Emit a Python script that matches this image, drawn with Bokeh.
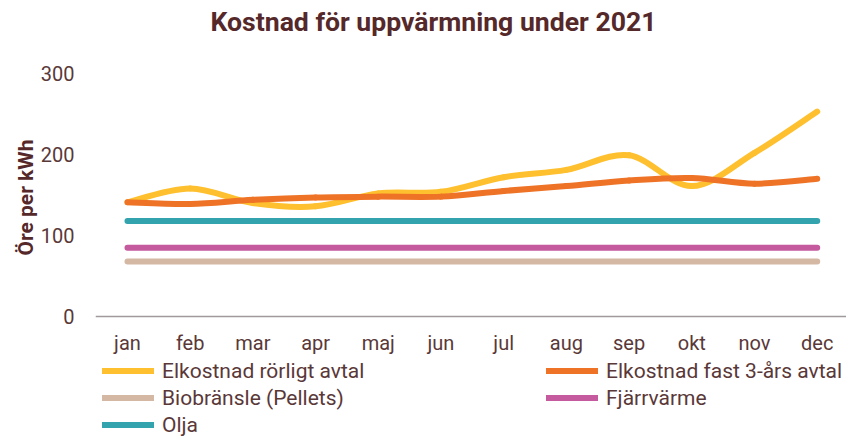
from bokeh.plotting import figure
from bokeh.models import Range1d, FixedTicker, Legend, LegendItem, ColumnDataSource, Title, Label
from bokeh.embed import file_html
from bokeh.resources import INLINE

# ---- data ----
months = ["jan", "feb", "mar", "apr", "maj", "jun", "jul", "aug", "sep", "okt", "nov", "dec"]
el_rorligt = [141, 158, 140, 136, 152, 154, 172, 181, 199, 161, 202, 253]
el_fast = [141, 139, 144, 147, 148, 148, 155, 161, 168, 171, 164, 170]
pellets = [68, 68, 68, 68, 68, 68, 68, 68, 68, 68, 68, 68]
fjarrvarme = [85, 85, 85, 85, 85, 85, 85, 85, 85, 85, 85, 85]
olja = [118, 118, 118, 118, 118, 118, 118, 118, 118, 118, 118, 118]
y_ticks = [0, 100, 200, 300]

names = ["Elkostnad rörligt avtal", "Elkostnad fast 3-års avtal",
         "Biobränsle (Pellets)", "Fjärrvärme", "Olja"]
colors = ["#FEC02E", "#EE7326", "#D5B8A3", "#C55A9E", "#33A3AE"]

TXT = "#5A3838"
TITLE = "#55282A"
FONT = "Roboto"

# the plot area fills the whole height so that the title and the legend can sit
# inside it; the value axis itself only covers 0..300
p = figure(width=846, height=436, output_backend="svg", toolbar_location=None,
           x_range=Range1d(-0.51, 11.467), y_range=Range1d(-148.1, 390.1),
           min_border_left=95, min_border_right=0, min_border_top=0, min_border_bottom=0,
           title_location=None)
p.outline_line_alpha = 0
p.xgrid.visible = False
p.ygrid.visible = False

p.add_layout(Label(text="Kostnad för uppvärmning under 2021", x=115, y=415,
                   x_units="screen", y_units="screen",
                   text_align="left", text_baseline="middle",
                   text_font=FONT, text_font_style="bold",
                   text_font_size="26.6px", text_color=TITLE))

xs = list(range(len(months)))


def smooth(ys):
    n = len(ys)
    d = dict(x0=[], y0=[], x1=[], y1=[], cx0=[], cy0=[], cx1=[], cy1=[])
    for i in range(n - 1):
        a = max(i - 1, 0)
        b = min(i + 2, n - 1)
        d["x0"].append(xs[i]); d["y0"].append(ys[i])
        d["x1"].append(xs[i + 1]); d["y1"].append(ys[i + 1])
        d["cx0"].append(xs[i] + (xs[i + 1] - xs[a]) / 6)
        d["cy0"].append(ys[i] + (ys[i + 1] - ys[a]) / 6)
        d["cx1"].append(xs[i + 1] - (xs[b] - xs[i]) / 6)
        d["cy1"].append(ys[i + 1] - (ys[b] - ys[i]) / 6)
    return ColumnDataSource(d)


LW = 6
rs = {}
for nm, ys, c in [(names[2], pellets, colors[2]), (names[3], fjarrvarme, colors[3]),
                  (names[4], olja, colors[4])]:
    rs[nm] = p.line(xs, ys, line_color=c, line_width=LW, line_cap="round")
for nm, ys, c in [(names[0], el_rorligt, colors[0]), (names[1], el_fast, colors[1])]:
    rs[nm] = p.bezier(x0="x0", y0="y0", x1="x1", y1="y1", cx0="cx0", cy0="cy0",
                      cx1="cx1", cy1="cy1", source=smooth(ys),
                      line_color=c, line_width=LW, line_cap="round")


def make_legend(items, loc):
    lg = Legend(items=[LegendItem(label=nm, renderers=[rs[nm]]) for nm in items],
                location=loc, orientation="vertical",
                glyph_width=52, glyph_height=25, label_height=25, label_standoff=8,
                spacing=2, padding=0, margin=0,
                label_text_font=FONT, label_text_font_size="21px", label_text_color=TXT,
                border_line_alpha=0, background_fill_alpha=0)
    p.add_layout(lg, "center")


make_legend([names[0], names[2], names[4]], (7, -1))
make_legend([names[1], names[3]], (451, 26))

# value axis
p.yaxis.ticker = FixedTicker(ticks=y_ticks)
p.yaxis.bounds = (0, 300)
p.yaxis.axis_line_alpha = 0
p.yaxis.major_tick_out = 0
p.yaxis.major_tick_in = 0
p.yaxis.minor_tick_out = 0
p.yaxis.minor_tick_in = 0
p.yaxis.major_label_standoff = 21
p.yaxis.major_label_text_font = FONT
p.yaxis.major_label_text_font_size = "20px"
p.yaxis.major_label_text_color = TXT

# axis title on the left, placed along the 0..300 part of the axis
p.add_layout(Title(text=" ", text_font_size="1px", text_alpha=0, standoff=10), "left")
p.add_layout(Title(text="Öre per kWh", align="left", offset=181, standoff=0,
                   text_font=FONT, text_font_style="bold", text_font_size="21px",
                   text_color=TITLE), "left")

# category axis drawn at value 0
p.xaxis.fixed_location = 0
p.xaxis.ticker = FixedTicker(ticks=xs)
p.xaxis.major_label_overrides = {i: m for i, m in zip(xs, months)}
p.xaxis.axis_line_color = "#A19A9A"
p.xaxis.axis_line_width = 1.5
p.xaxis.major_tick_out = 0
p.xaxis.major_tick_in = 0
p.xaxis.minor_tick_out = 0
p.xaxis.minor_tick_in = 0
p.xaxis.major_label_standoff = 14
p.xaxis.major_label_text_font = FONT
p.xaxis.major_label_text_font_size = "20px"
p.xaxis.major_label_text_color = TXT

open("out.html", "w").write(file_html(p, INLINE))
